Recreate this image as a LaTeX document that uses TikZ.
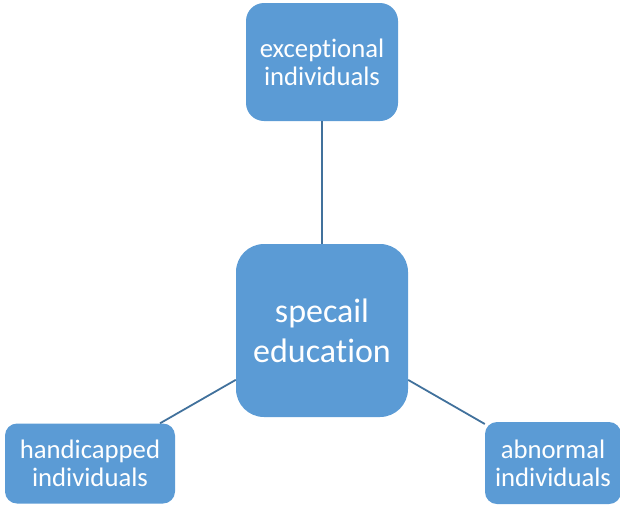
\documentclass[tikz,border=0pt]{standalone}
\usepackage{fontspec}
\setmainfont[Ligatures=NoCommon]{Carlito}
\definecolor{boxblue}{HTML}{5B9BD5}
\definecolor{linkblue}{HTML}{41719C}
\begin{document}
\begin{tikzpicture}[x=1pt,y=-1pt,
  box/.style={fill=boxblue, draw=none, text=white, align=center, inner sep=0pt,
    font=\fontsize{26.7}{28}\selectfont},
  link/.style={draw=linkblue, line width=1.8pt}]
\useasboundingbox (0,0) rectangle (620,504);
\begin{scope}
\clip (0,0) rectangle (620,504);
\node[box, minimum width=152pt, minimum height=118pt, rounded corners=18pt] (top) at (322,62) {exceptional\\individuals};
\node[box, minimum width=172pt, minimum height=173pt, rounded corners=28pt, font=\fontsize{34}{40}\selectfont] (ctr) at (322,330.5) {specail\\education};
\node[box, minimum width=170pt, minimum height=80pt, rounded corners=12pt] (lft) at (90,463.5) {handicapped\\individuals};
\node[box, minimum width=136pt, minimum height=82pt, rounded corners=12pt] (rgt) at (553,463) {abnormal\\individuals};
\end{scope}
\draw[link] (top) -- (ctr);
\draw[link] (ctr) -- (lft);
\draw[link] (ctr) -- (rgt);
\end{tikzpicture}
\end{document}
